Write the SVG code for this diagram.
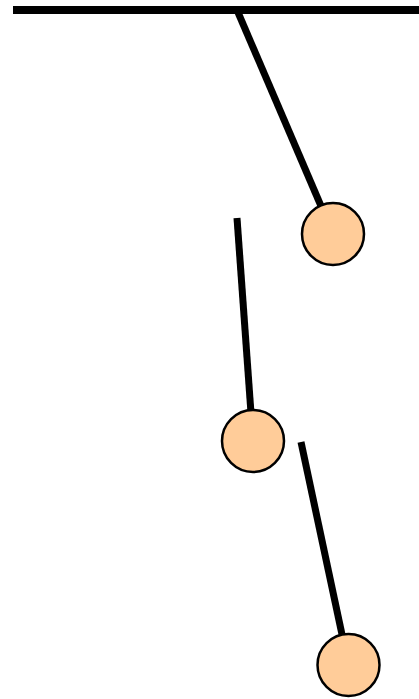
<svg xmlns="http://www.w3.org/2000/svg" width="419" height="699" viewBox="0 0 419 699">
<style>
.rod{stroke:#000;stroke-width:7;fill:none}
.bob{fill:#ffcc99;stroke:#000;stroke-width:2.5}
</style>
<rect width="419" height="699" fill="#fff"/>
<g id="connectors">
<line class="rod" x1="13" y1="10" x2="419" y2="10" style="stroke-width:8"/>
<line class="rod" x1="237" y1="10" x2="333" y2="234"/>
<line class="rod" x1="237" y1="218" x2="253" y2="441"/>
<line class="rod" x1="301" y1="442" x2="348.5" y2="665"/>
</g>
<g id="bob1"><circle class="bob" cx="333" cy="234" r="31"/></g>
<g id="bob2"><circle class="bob" cx="253" cy="441" r="31"/></g>
<g id="bob3"><circle class="bob" cx="348.5" cy="665" r="31"/></g>
</svg>
